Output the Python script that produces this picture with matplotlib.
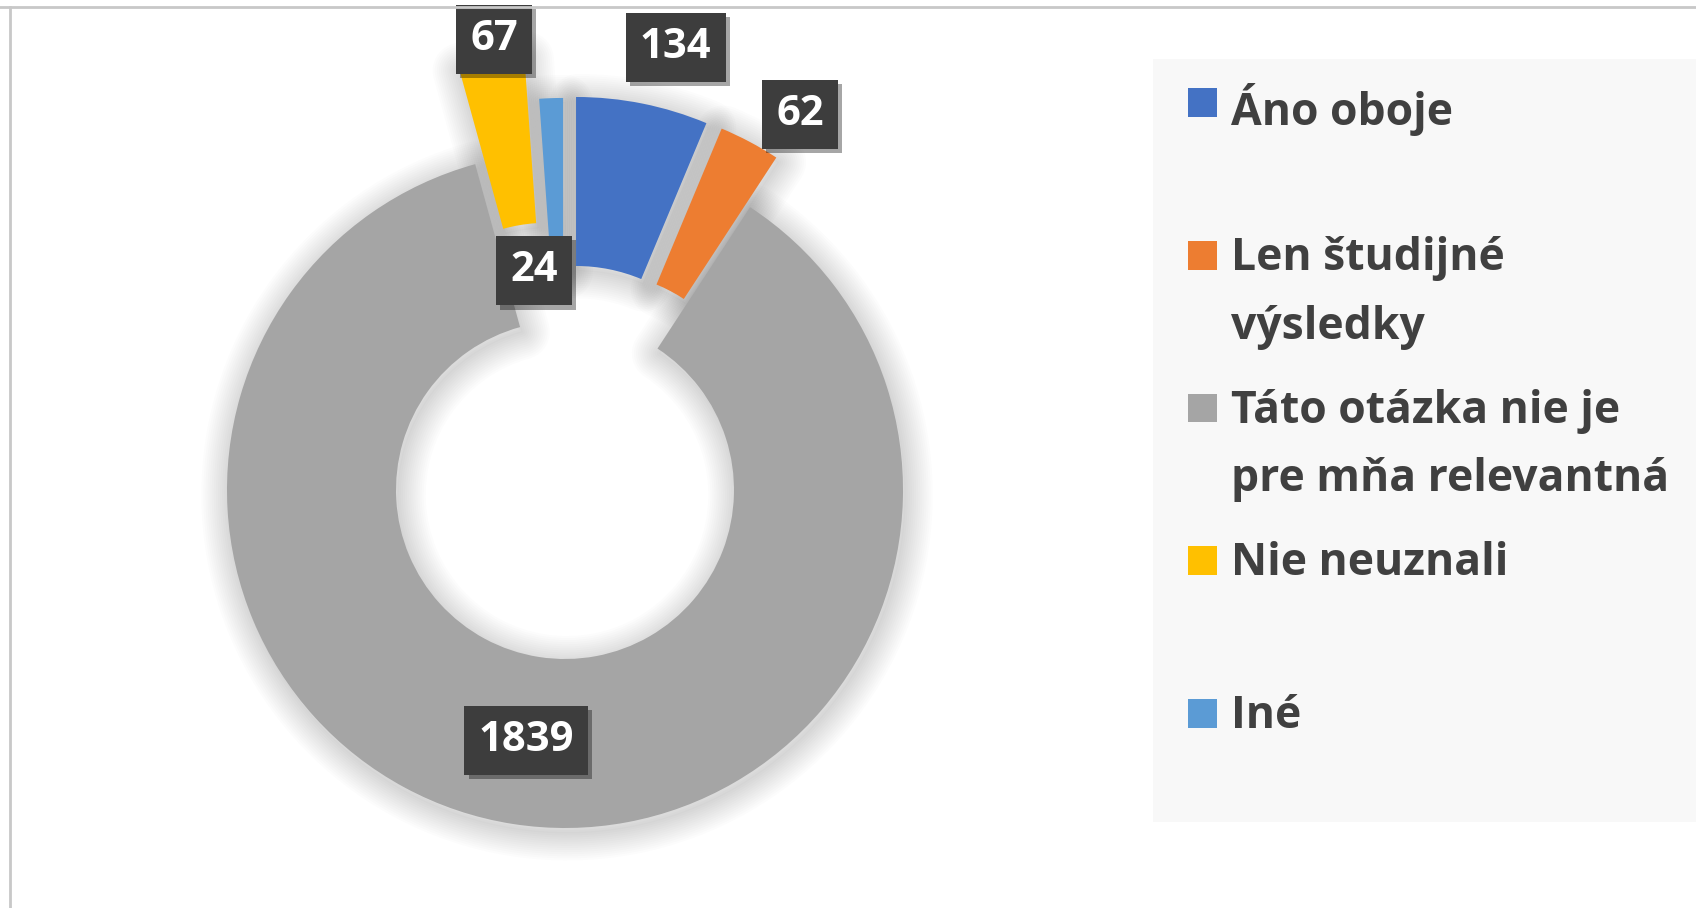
import numpy as np
import matplotlib
matplotlib.use("Agg")
import matplotlib.pyplot as plt
from matplotlib import patches
from matplotlib import patheffects

# data
categories = ["Áno oboje", "Len študijné\nvýsledky", "Táto otázka nie je\npre mňa relevantná",
              "Nie neuznali", "Iné"]
values = [134, 62, 1839, 67, 24]
slice_colors = ["#4472c4", "#ed7d31", "#a5a5a5", "#ffc000", "#5b9bd5"]
explode = [0.166, 0.166, 0.0, 0.295, 0.16]

# label placement relative to the slice (radius in units of pie radius, angle nudge in deg)
label_radius = [1.35, 1.31, 0.75, 1.35, 0.655]
label_nudge = [-2.7, -4.1, 0.1, -0.8, 6.0]

W, H = 1696, 908
cx, cy, R = 565, 490, 338  # pie centre / radius in pixels (from top-left)
text_color = "#404040"

plt.rcParams['font.family'] = ['Open Sans', 'DejaVu Sans']

fig = plt.figure(figsize=(W / 100, H / 100), dpi=100)
ax = fig.add_axes([0, 0, 1, 1])

wedges, _ = ax.pie(values, colors=slice_colors, explode=explode, startangle=90,
                   counterclock=False, radius=1, wedgeprops=dict(width=0.5, linewidth=0),
                   normalize=True)
ax.set_aspect('auto')
ax.set_xlim(-cx / R, (W - cx) / R)
ax.set_ylim(-(H - cy) / R, cy / R)
ax.axis('off')

# soft shadow round every slice
for w in wedges:
    for lw in np.arange(40, 0, -3):
        sh = patches.Wedge((w.center[0] + 0.006, w.center[1] - 0.014), w.r, w.theta1, w.theta2,
                           width=w.width, facecolor='none', edgecolor='black',
                           linewidth=lw, alpha=0.011, joinstyle='round', zorder=0)
        ax.add_patch(sh)
for w in wedges:
    w.set_zorder(2)

# data labels
for i, w in enumerate(wedges):
    mid = np.deg2rad((w.theta1 + w.theta2) / 2 + label_nudge[i])
    x = label_radius[i] * np.cos(mid)
    y = label_radius[i] * np.sin(mid)
    t = ax.text(x, y, str(values[i]), ha='center', va='center', fontsize=30,
                fontweight='bold', color='white', zorder=5,
                bbox=dict(boxstyle='square,pad=0.34', facecolor='#3d3d3d', edgecolor='none'))
    t.get_bbox_patch().set_path_effects([
        patheffects.SimplePatchShadow(offset=(3, -3), alpha=0.35, shadow_rgbFace='black'),
        patheffects.Normal()])

# legend (manual, to match entry spacing)
fig.patches.append(patches.Rectangle((1153 / W, 1 - 822 / H), (W - 1153) / W, (822 - 59) / H,
                                     transform=fig.transFigure, facecolor='#f8f8f8',
                                     edgecolor='none', zorder=0))
marker_y0, marker_step = 103, 152.75
for i, lab in enumerate(categories):
    my = marker_y0 + i * marker_step
    fig.patches.append(patches.Rectangle((1188 / W, 1 - (my + 14) / H), 29 / W, 29 / H,
                                         transform=fig.transFigure, facecolor=slice_colors[i],
                                         edgecolor='none', zorder=3))
    fig.text(1231 / W, 1 - (my - 20) / H, lab, ha='left', va='top', fontsize=32,
             fontweight='bold', color=text_color, linespacing=1.7)

# outer chart frame
fig.add_artist(plt.Line2D([0, 1], [1 - 7 / H, 1 - 7 / H], transform=fig.transFigure,
                          color='#c8c8c8', linewidth=2))
fig.add_artist(plt.Line2D([10 / W, 10 / W], [0, 1 - 7 / H], transform=fig.transFigure,
                          color='#c8c8c8', linewidth=2))

fig.savefig("out.png", dpi=100, facecolor='white')
